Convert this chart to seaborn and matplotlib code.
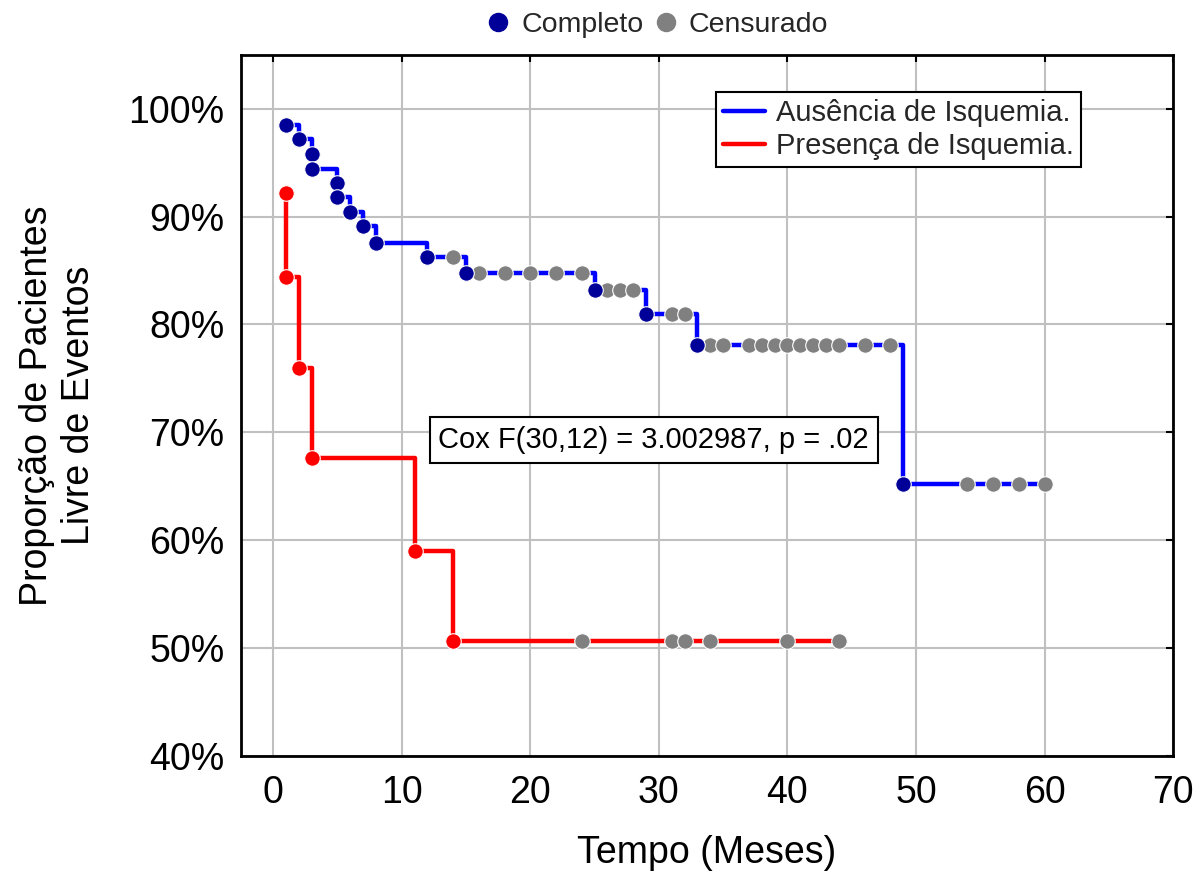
import matplotlib
matplotlib.use("Agg")
import matplotlib.pyplot as plt
from matplotlib.lines import Line2D
import pandas as pd
import seaborn as sns

# ---------------- data ----------------
aus_time = [1, 2, 3, 3, 5, 5, 6, 7, 8, 12, 14, 15, 16, 18, 20, 22, 24,
            25, 26, 27, 28, 29, 31, 32, 33, 34, 35, 37, 38, 39, 40, 41, 42,
            43, 44, 46, 48, 49, 54, 56, 58, 60]
aus_surv = [98.5, 97.2, 95.8, 94.4, 93.1, 91.8, 90.4, 89.1, 87.6, 86.3, 86.3,
            84.8, 84.8, 84.8, 84.8, 84.8, 84.8,
            83.2, 83.2, 83.2, 83.2, 81.0, 81.0, 81.0, 78.1, 78.1, 78.1, 78.1,
            78.1, 78.1, 78.1, 78.1, 78.1, 78.1, 78.1, 78.1, 78.1,
            65.2, 65.2, 65.2, 65.2, 65.2]
aus_cens = [0, 0, 0, 0, 0, 0, 0, 0, 0, 0, 1, 0, 1, 1, 1, 1, 1,
            0, 1, 1, 1, 0, 1, 1, 0, 1, 1, 1, 1, 1, 1, 1, 1,
            1, 1, 1, 1, 0, 1, 1, 1, 1]

pre_time = [1, 1, 2, 3, 11, 14, 24, 31, 32, 34, 40, 44]
pre_surv = [92.2, 84.4, 76.0, 67.6, 59.0, 50.6, 50.6, 50.6, 50.6, 50.6, 50.6, 50.6]
pre_cens = [0, 0, 0, 0, 0, 0, 1, 1, 1, 1, 1, 1]

group_labels = ["Ausência de Isquemia.", "Presença de Isquemia."]
status_labels = ["Completo", "Censurado"]
x_ticks = [0, 10, 20, 30, 40, 50, 60, 70]
y_ticks = [40, 50, 60, 70, 80, 90, 100]
y_ticklabels = ["40%", "50%", "60%", "70%", "80%", "90%", "100%"]
cox_text = "Cox F(30,12) = 3.002987, p = .02"

# ---------------- style ----------------
sns.set_theme(style="white")
plt.rcParams['font.family'] = ['Liberation Sans', 'DejaVu Sans']

LINE_COLORS = ["#0000FF", "#FF0000"]
COMPLETE_COLORS = ["#000099", "#FF0000"]
CENS_COLOR = "#808080"

df_aus = pd.DataFrame({"t": aus_time, "s": aus_surv, "c": aus_cens})
df_pre = pd.DataFrame({"t": pre_time, "s": pre_surv, "c": pre_cens})

fig = plt.figure(figsize=(12.04, 8.73), dpi=100)
ax = fig.add_axes([0.2002, 0.1344, 0.7741, 0.8026])

for i, d in enumerate([df_pre, df_aus]):
    gi = 1 - i
    sns.lineplot(data=d, x="t", y="s", estimator=None, sort=False,
                 drawstyle="steps-post", color=LINE_COLORS[gi], lw=3.2,
                 ax=ax, zorder=3)
    comp = d[d["c"] == 0]
    cens = d[d["c"] == 1]
    sns.scatterplot(data=cens, x="t", y="s", color=CENS_COLOR, s=125,
                    edgecolor="white", linewidth=0.8, ax=ax, zorder=4)
    sns.scatterplot(data=comp, x="t", y="s", color=COMPLETE_COLORS[gi], s=125,
                    edgecolor="white", linewidth=0.8, ax=ax, zorder=5)

ax.set_xlim(-2.5, 70)
ax.set_ylim(40, 105)
ax.set_xticks(x_ticks)
ax.set_yticks(y_ticks)
ax.set_yticklabels(y_ticklabels)
ax.grid(True, color="#C0C0C0", lw=1.5, zorder=0)
ax.set_axisbelow(True)
for sp in ax.spines.values():
    sp.set_color("black")
    sp.set_linewidth(2.0)
ax.tick_params(axis="both", which="both", direction="in", length=5, width=1.5,
               color="black", labelsize=27, top=True, right=True,
               labelcolor="black")
ax.tick_params(axis="x", pad=14)
ax.tick_params(axis="y", pad=12)

ax.set_xlabel("Tempo (Meses)", fontsize=27, color="black", labelpad=17)
ax.set_ylabel("Proporção de Pacientes\nLivre de Eventos", fontsize=27,
              color="black", linespacing=1.2)
ax.yaxis.set_label_coords(-0.155, 0.5)

# group legend
handles = [Line2D([0], [0], color=LINE_COLORS[0], lw=3.2),
           Line2D([0], [0], color=LINE_COLORS[1], lw=3.2)]
leg = ax.legend(handles, group_labels, loc="upper right",
                bbox_to_anchor=(0.901, 0.947), borderaxespad=0,
                fontsize=21, frameon=True, fancybox=False, edgecolor="black",
                framealpha=1, handlelength=1.45, handletextpad=0.35,
                labelspacing=0.15, borderpad=0.25)
leg.get_frame().set_linewidth(1.5)

# status legend at top
sh = [Line2D([0], [0], marker="o", ls="none", color=COMPLETE_COLORS[0],
             markersize=13),
      Line2D([0], [0], marker="o", ls="none", color=CENS_COLOR, markersize=13)]
fig.legend(sh, status_labels, loc="center", bbox_to_anchor=(0.545, 0.971),
           ncol=2, frameon=False, fontsize=20.5, handlelength=1.0,
           handletextpad=0.3, columnspacing=0.3)

ax.text(29.6, 69.3, cox_text, ha="center", va="center", fontsize=21,
        color="black", zorder=6,
        bbox=dict(boxstyle="square,pad=0.3", fc="white", ec="black", lw=1.5))

fig.savefig("out.png", dpi=100)
